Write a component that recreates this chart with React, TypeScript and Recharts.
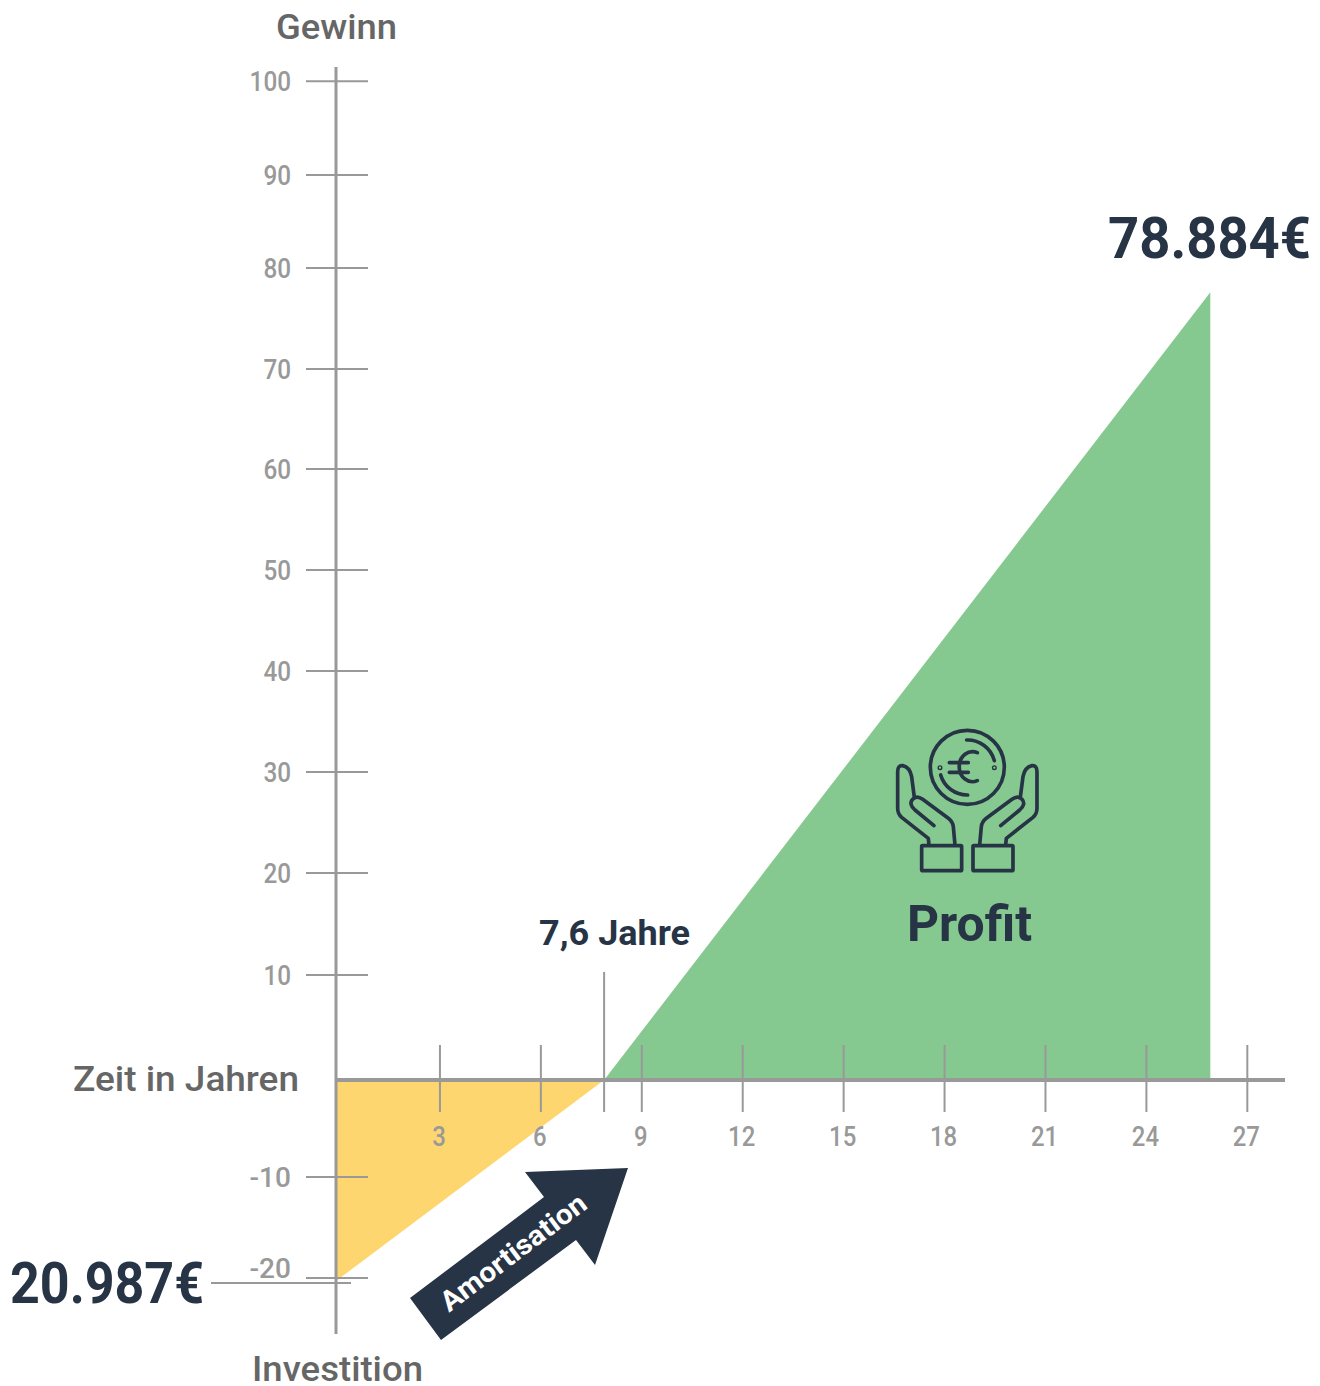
import { Area, ComposedChart, ReferenceLine, XAxis, YAxis } from "recharts";

// years on the x axis and the plotted positions of the two triangles
const lossYears = [-0.09, 7.88];
const lossValues = [-19.9, 0];
const gainYears = [7.88, 25.9];
const gainValues = [0, 78];

const xTicks = [3, 6, 9, 12, 15, 18, 21, 24, 27];
// the source axis is unevenly spaced, so tick positions and their labels are kept apart
const yTicks = [98.9, 89.6, 80.4, 70.4, 60.5, 50.5, 40.5, 30.5, 20.5, 10.4, -9.6, -19.6];
const yTickLabels = ["100", "90", "80", "70", "60", "50", "40", "30", "20", "10", "-10", "-20"];

const data = [
  { year: lossYears[0], loss: lossValues[0], gain: null },
  { year: lossYears[1], loss: lossValues[1], gain: gainValues[0] },
  { year: gainYears[1], loss: null, gain: gainValues[1] },
];

const GREY = "#999999";
const NAVY = "#263445";
const FONT = "Roboto, sans-serif";

function Label({ x, y, w, size, color, weight = 500, children }: any) {
  return (
    <text
      x={x}
      y={y}
      fontFamily={FONT}
      fontSize={size}
      fontWeight={weight}
      fill={color}
      textLength={w}
      lengthAdjust="spacingAndGlyphs"
    >
      {children}
    </text>
  );
}

function YTick({ x, y, index }: any) {
  const label = yTickLabels[index];
  // the -20 label sits above its tick in the source, clear of the amount line
  const nudge = label === "-20" ? -10 : 0;
  return (
    <g>
      <line x1={x - 30} x2={x + 32} y1={y} y2={y} stroke={GREY} strokeWidth={2} />
      <text
        x={x - 45}
        y={y + 10 + nudge}
        textAnchor="end"
        fontFamily={FONT}
        fontSize={28}
        fontWeight={500}
        fill={GREY}
        textLength={label.length * 13.8}
        lengthAdjust="spacingAndGlyphs"
      >
        {label}
      </text>
    </g>
  );
}

function XTick({ x, y, payload }: any) {
  const label = String(payload.value);
  return (
    <g>
      <line x1={x} x2={x} y1={y - 289} y2={y - 222} stroke={GREY} strokeWidth={2} />
      <text
        x={x - 1}
        y={y - 188}
        textAnchor="middle"
        fontFamily={FONT}
        fontSize={28}
        fontWeight={500}
        fill={GREY}
        textLength={label.length * 13.6}
        lengthAdjust="spacingAndGlyphs"
      >
        {label}
      </text>
    </g>
  );
}

function HandsIcon() {
  const hand = (
    <g>
      <path d="M207 405 L205 385 L125 322 Q113 312 113 295 L113 185 Q113 165 128 167 Q150 172 155 200 L163 262" />
      <path d="M222 347 L165 300 Q145 282 158 268 Q170 255 188 268 L265 325 Q278 335 280 350 L285 405" />
      <rect x={185} y={407} width={120} height={75} rx={3} />
    </g>
  );
  return (
    <g
      transform="translate(860 710) scale(0.3333)"
      fill="none"
      stroke={NAVY}
      strokeWidth={11}
      strokeLinecap="round"
      strokeLinejoin="round"
    >
      <circle cx={322} cy={172} r={111} />
      <path d="M320 90 A83 83 0 0 1 403 152" />
      <path d="M242 195 A83 83 0 0 0 323 255" />
      <circle cx={240} cy={173} r={2} />
      <circle cx={403} cy={173} r={2} />
      <path d="M352 128 A40 45 0 1 0 352 212" />
      <path d="M268 158 L325 158 M268 187 L325 187" />
      {hand}
      <g transform="translate(644 0) scale(-1 1)">{hand}</g>
    </g>
  );
}

export default function App() {
  return (
    <div style={{ position: "absolute", left: 0, top: 0, width: 1320, height: 1386, background: "#fff" }}>
      <ComposedChart
        width={1320}
        height={1386}
        data={data}
        margin={{ top: 67, right: 35, bottom: 22, left: 300 }}
      >
        <XAxis
          type="number"
          dataKey="year"
          domain={[-0.09, 28.12]}
          ticks={xTicks}
          interval={0}
          height={30}
          axisLine={false}
          tickLine={false}
          tickSize={0}
          tickMargin={0}
          tick={<XTick />}
        />
        <YAxis
          type="number"
          domain={[-25.15, 100.3]}
          ticks={yTicks}
          interval={0}
          width={36}
          axisLine={{ stroke: GREY, strokeWidth: 3 }}
          tickLine={false}
          tickSize={0}
          tickMargin={0}
          tick={<YTick />}
        />
        <Area
          type="linear"
          dataKey="loss"
          fill="#fed66f"
          fillOpacity={1}
          stroke="none"
          dot={false}
          activeDot={false}
          isAnimationActive={false}
        />
        <Area
          type="linear"
          dataKey="gain"
          fill="#86c990"
          fillOpacity={1}
          stroke="none"
          dot={false}
          activeDot={false}
          isAnimationActive={false}
        />
        <ReferenceLine y={0} stroke={GREY} strokeWidth={4} />
        <ReferenceLine
          segment={[
            { x: 7.88, y: 10.7 },
            { x: 7.88, y: -3.17 },
          ]}
          stroke={GREY}
          strokeWidth={2}
        />
      </ComposedChart>
      <svg width={1320} height={1386} style={{ position: "absolute", left: 0, top: 0, pointerEvents: "none" }}>
        <line x1={211} x2={351} y1={1283} y2={1283} stroke={GREY} strokeWidth={2} />
        <Label x={276} y={39} w={121} size={35} color="#666666">Gewinn</Label>
        <Label x={73} y={1091} w={226} size={35} color="#666666">Zeit in Jahren</Label>
        <Label x={252} y={1381} w={171} size={35} color="#666666">Investition</Label>
        <Label x={1108} y={258} w={203} size={57} color={NAVY} weight={700}>78.884€</Label>
        <Label x={10} y={1303} w={194} size={57} color={NAVY} weight={700}>20.987€</Label>
        <Label x={539} y={945} w={151} size={35} color={NAVY} weight={700}>7,6 Jahre</Label>
        <Label x={907} y={941} w={125} size={50} color={NAVY} weight={700}>Profit</Label>
        <polygon
          points="628,1168 595,1265 576,1240 441,1340 410,1298 544,1197 525,1172"
          fill={NAVY}
        />
        <text
          x={0}
          y={0}
          transform="translate(519 1260) rotate(-37)"
          textAnchor="middle"
          fontFamily={FONT}
          fontSize={28}
          fontWeight={700}
          fill="#ffffff"
          textLength={175}
          lengthAdjust="spacingAndGlyphs"
        >
          Amortisation
        </text>
        <HandsIcon />
      </svg>
    </div>
  );
}
